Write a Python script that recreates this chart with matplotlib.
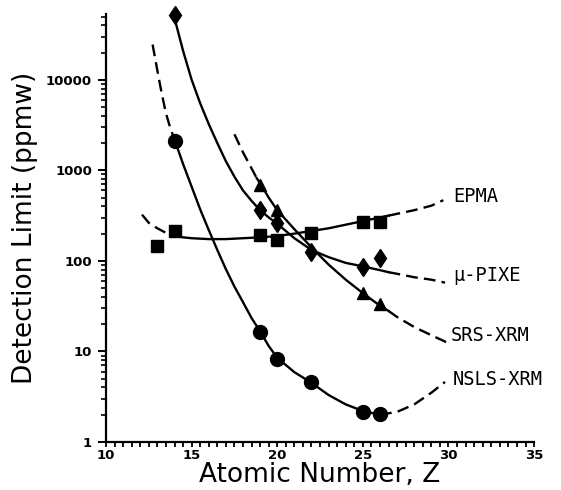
import numpy as np
import matplotlib
matplotlib.use("Agg")
import matplotlib.pyplot as plt
from matplotlib.ticker import MultipleLocator, LogLocator, NullFormatter

# =============================================================================
# measured points (Z, detection limit in ppmw)
# =============================================================================
z_nsls = [14, 19, 20, 22, 25, 26]
v_nsls = [2100, 16.5, 8.3, 4.6, 2.15, 2.05]

z_epma = [13, 14, 19, 20, 22, 25, 26]
v_epma = [145, 215, 194, 170, 203, 268, 270]

z_pixe = [14, 19, 20, 22, 25, 26]
v_pixe = [52000, 365, 260, 126, 86, 108]

z_srs = [19, 20, 25, 26]
v_srs = [690, 365, 44, 33]

# hand drawn trend curves
cz_nsls = [12.72, 13.0, 13.25, 13.5, 13.75, 14.0, 14.5, 15.0, 15.5, 16.0, 16.5, 17.0, 17.5,
           18.0, 18.5, 19.0, 19.5, 20.0, 21.0, 22.0, 23.0, 24.0, 25.0, 26.0, 27.0, 28.0,
           29.0, 29.8]
cv_nsls = [24500, 12600, 7100, 4270, 2950, 2190, 1175, 660, 370, 219, 132, 81, 52,
           35, 23.4, 16.6, 11.5, 8.5, 5.9, 4.5, 3.3, 2.6, 2.2, 2.0, 2.15, 2.6,
           3.5, 4.6]

cz_epma = [12.1, 12.5, 13.0, 13.5, 14.0, 14.5, 15.0, 16.0, 17.0, 18.0, 19.0, 20.0,
           21.0, 22.0, 23.0, 24.0, 25.0, 26.0, 26.5, 27.0, 28.0, 29.0, 29.7]
cv_epma = [324, 263, 229, 204, 190, 182, 178, 174, 174, 178, 182, 188,
           200, 214, 229, 251, 275, 302, 316, 331, 363, 407, 468]

cz_pixe = [14.0, 14.5, 15.0, 15.5, 16.0, 16.5, 17.0, 17.5, 18.0, 18.5, 19.0, 19.5, 20.0,
           21.0, 22.0, 23.0, 24.0, 25.0, 26.0, 26.5, 27.0, 28.0, 29.0, 29.8]
cv_pixe = [47900, 20900, 10000, 5500, 3240, 2000, 1260, 850, 600, 460, 363, 302, 257,
           178, 132, 110, 95, 87, 79, 75, 72, 66, 62, 57.5]

cz_srs = [17.5, 18.0, 18.5, 18.8, 19.0, 19.5, 20.0, 21.0, 22.0, 23.0, 24.0, 25.0, 26.0,
          26.5, 27.0, 28.0, 29.0, 29.9]
cv_srs = [2500, 1580, 1050, 820, 720, 500, 363, 224, 141, 91, 62, 44, 32,
          28, 24, 18.6, 15.1, 12.6]

labels = ["EPMA", "\u03bc-PIXE", "SRS-XRM", "NSLS-XRM"]
label_z = [30.26, 30.26, 30.15, 30.26]
label_v = [513, 69, 15.1, 4.9]

# =============================================================================
# figure
# =============================================================================
fig = plt.figure(figsize=(5.61, 4.90), dpi=100)
ax = fig.add_axes([0.189, 0.098, 0.763, 0.873])
ax.set_yscale("log")
ax.set_xlim(10, 35)
ax.set_ylim(1, 53000)

lw = 1.7
dash = (5, 2.6)


def trend(z, v, lo, hi):
    z = np.array(z)
    v = np.array(v)
    mid = (z >= lo) & (z <= hi)
    left = z <= lo
    right = z >= hi
    ax.plot(z[mid], v[mid], color="black", lw=lw, solid_joinstyle="round")
    if left.sum() > 1:
        ax.plot(z[left], v[left], color="black", lw=lw, dashes=dash)
    if right.sum() > 1:
        ax.plot(z[right], v[right], color="black", lw=lw, dashes=dash)


trend(cz_nsls, cv_nsls, 14.0, 26.0)
trend(cz_epma, cv_epma, 14.0, 26.5)
trend(cz_pixe, cv_pixe, 14.0, 26.5)
trend(cz_srs, cv_srs, 18.8, 26.5)

ax.plot(z_nsls, v_nsls, "o", color="black", ms=10, clip_on=False)
ax.plot(z_epma, v_epma, "s", color="black", ms=8.5, clip_on=False)
ax.plot(z_pixe, v_pixe, "d", color="black", ms=9.5, clip_on=False)
ax.plot(z_srs, v_srs, "^", color="black", ms=9, clip_on=False)

for t, zx, vy in zip(labels, label_z, label_v):
    ax.text(zx, vy, t, family="DejaVu Sans Mono", fontsize=13.5, va="center", ha="left")

# axes styling
for s in ["top", "right"]:
    ax.spines[s].set_visible(False)
for s in ["left", "bottom"]:
    ax.spines[s].set_linewidth(1.6)

ax.xaxis.set_major_locator(MultipleLocator(5))
ax.xaxis.set_minor_locator(MultipleLocator(0.5))
ax.yaxis.set_minor_locator(LogLocator(base=10, subs=np.arange(2, 10), numticks=10))
ax.yaxis.set_minor_formatter(NullFormatter())
ax.set_yticks([1, 10, 100, 1000, 10000])
ax.set_yticklabels(["1", "10", "100", "1000", "10000"])

ax.tick_params(axis="x", which="both", direction="out", length=3.5, width=1.3, pad=1.5,
               labelsize=9.5)
ax.tick_params(axis="y", which="major", direction="out", length=6, width=1.4, pad=4,
               labelsize=9.5)
ax.tick_params(axis="y", which="minor", direction="out", length=3.5, width=1.2)
for lab in ax.get_xticklabels() + ax.get_yticklabels():
    lab.set_fontweight("bold")

ax.set_xlabel("Atomic Number, Z", fontsize=19, labelpad=0)
ax.set_ylabel("Detection Limit (ppmw)", fontsize=19, labelpad=6)

fig.savefig("out.png", dpi=100)
